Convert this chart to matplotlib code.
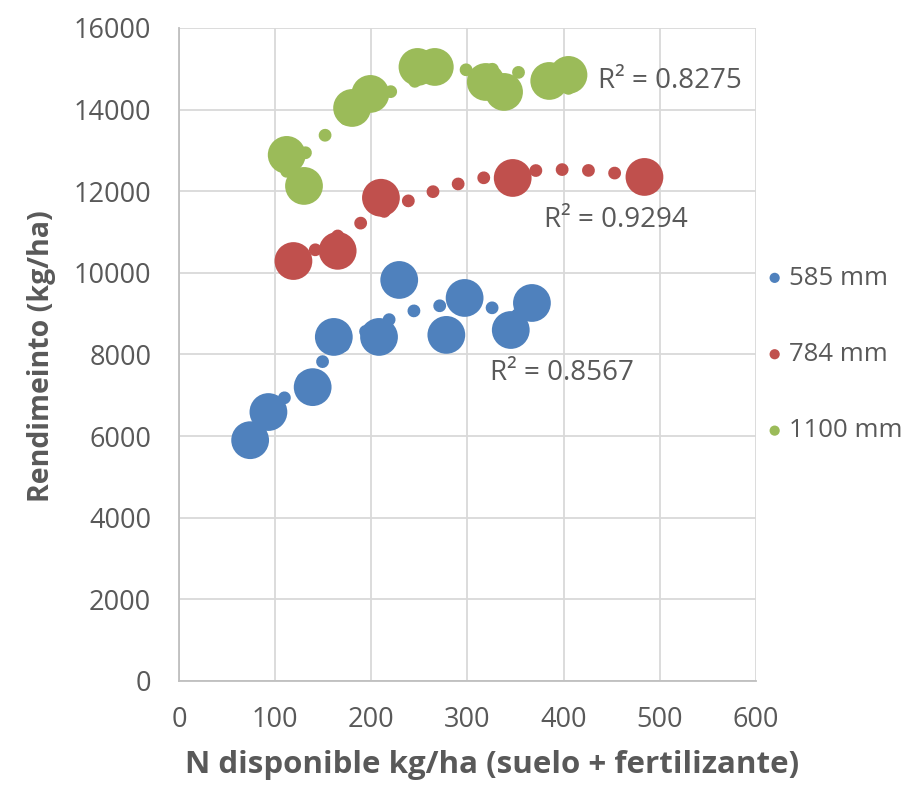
import matplotlib
matplotlib.use('Agg')
import matplotlib.pyplot as plt
import numpy as np

plt.rcParams['font.family'] = ['Open Sans', 'DejaVu Sans']

# N disponible (kg/ha) and rendimiento (kg/ha) for each rainfall level
n_585 = [74, 93, 139, 161, 208, 229, 278, 297, 345, 367]
y_585 = [5900, 6590, 7200, 8430, 8430, 9826, 8480, 9385, 8600, 9262]

n_784 = [119, 165, 210, 347, 484]
y_784 = [10290, 10540, 11840, 12325, 12350]

n_1100 = [112, 130, 180, 199, 248, 266, 319, 338, 385, 405]
y_1100 = [12890, 12130, 14040, 14384, 15045, 15045, 14677, 14433, 14702, 14850]

labels = ['585 mm', '784 mm', '1100 mm']
colors = ['#4f81bd', '#c0504d', '#9bbb59']
r2_texts = ['R² = 0.8567', 'R² = 0.9294', 'R² = 0.8275']
r2_pos = [(323, 7550), (380, 11300), (436, 14700)]

text_color = '#595959'

fig = plt.figure(figsize=(9.24, 7.86), dpi=100)
ax = fig.add_axes([0.1937, 0.1336, 0.8182 - 0.1937, 0.9644 - 0.1336])

series = [(n_585, y_585), (n_784, y_784), (n_1100, y_1100)]
for (xs, ys), color, label, txt, pos in zip(series, colors, labels, r2_texts, r2_pos):
    xs = np.array(xs, dtype=float)
    ys = np.array(ys, dtype=float)
    # polynomial (2nd order) trendline, drawn as round dots
    coef = np.polyfit(xs, ys, 2)
    xf = np.linspace(xs.min(), xs.max(), 200)
    line, = ax.plot(xf, np.polyval(coef, xf), color=color, lw=9.2,
                    dash_capstyle='round', zorder=2)
    line.set_dashes((0.01, 2.05))
    ax.scatter(xs, ys, s=740, color=color, edgecolors='none', zorder=3, label=label)
    ax.text(pos[0], pos[1], txt, fontsize=20, color=text_color, ha='left',
            va='center', zorder=4)

ax.set_xlim(0, 600)
ax.set_ylim(0, 16000)
ax.set_xticks(range(0, 601, 100))
ax.set_yticks(range(0, 16001, 2000))
ax.grid(True, color='#d9d9d9', lw=1.3, zorder=0)
ax.set_axisbelow(True)
for side in ['top', 'right']:
    ax.spines[side].set_visible(False)
for side in ['left', 'bottom']:
    ax.spines[side].set_color('#bfbfbf')
    ax.spines[side].set_linewidth(1.3)
ax.tick_params(length=0, labelsize=19.5, labelcolor=text_color)
ax.tick_params(axis='y', pad=20)
ax.tick_params(axis='x', pad=18)

ax.set_xlabel('N disponible kg/ha (suelo + fertilizante)', fontsize=22.5,
              fontweight='bold', color=text_color)
ax.xaxis.set_label_coords(0.5425, -0.106)
ax.set_ylabel('Rendimeinto (kg/ha)', fontsize=20.5, fontweight='bold',
              color=text_color)
ax.yaxis.set_label_coords(-0.213, 0.498)

leg = ax.legend(loc='center left', bbox_to_anchor=(0.99, 0.5), frameon=False,
                fontsize=18.5, markerscale=0.27, handletextpad=0.0,
                labelspacing=2.0, borderaxespad=0.0, handlelength=1.1)
for t in leg.get_texts():
    t.set_color(text_color)

fig.savefig('out.png', dpi=100)
